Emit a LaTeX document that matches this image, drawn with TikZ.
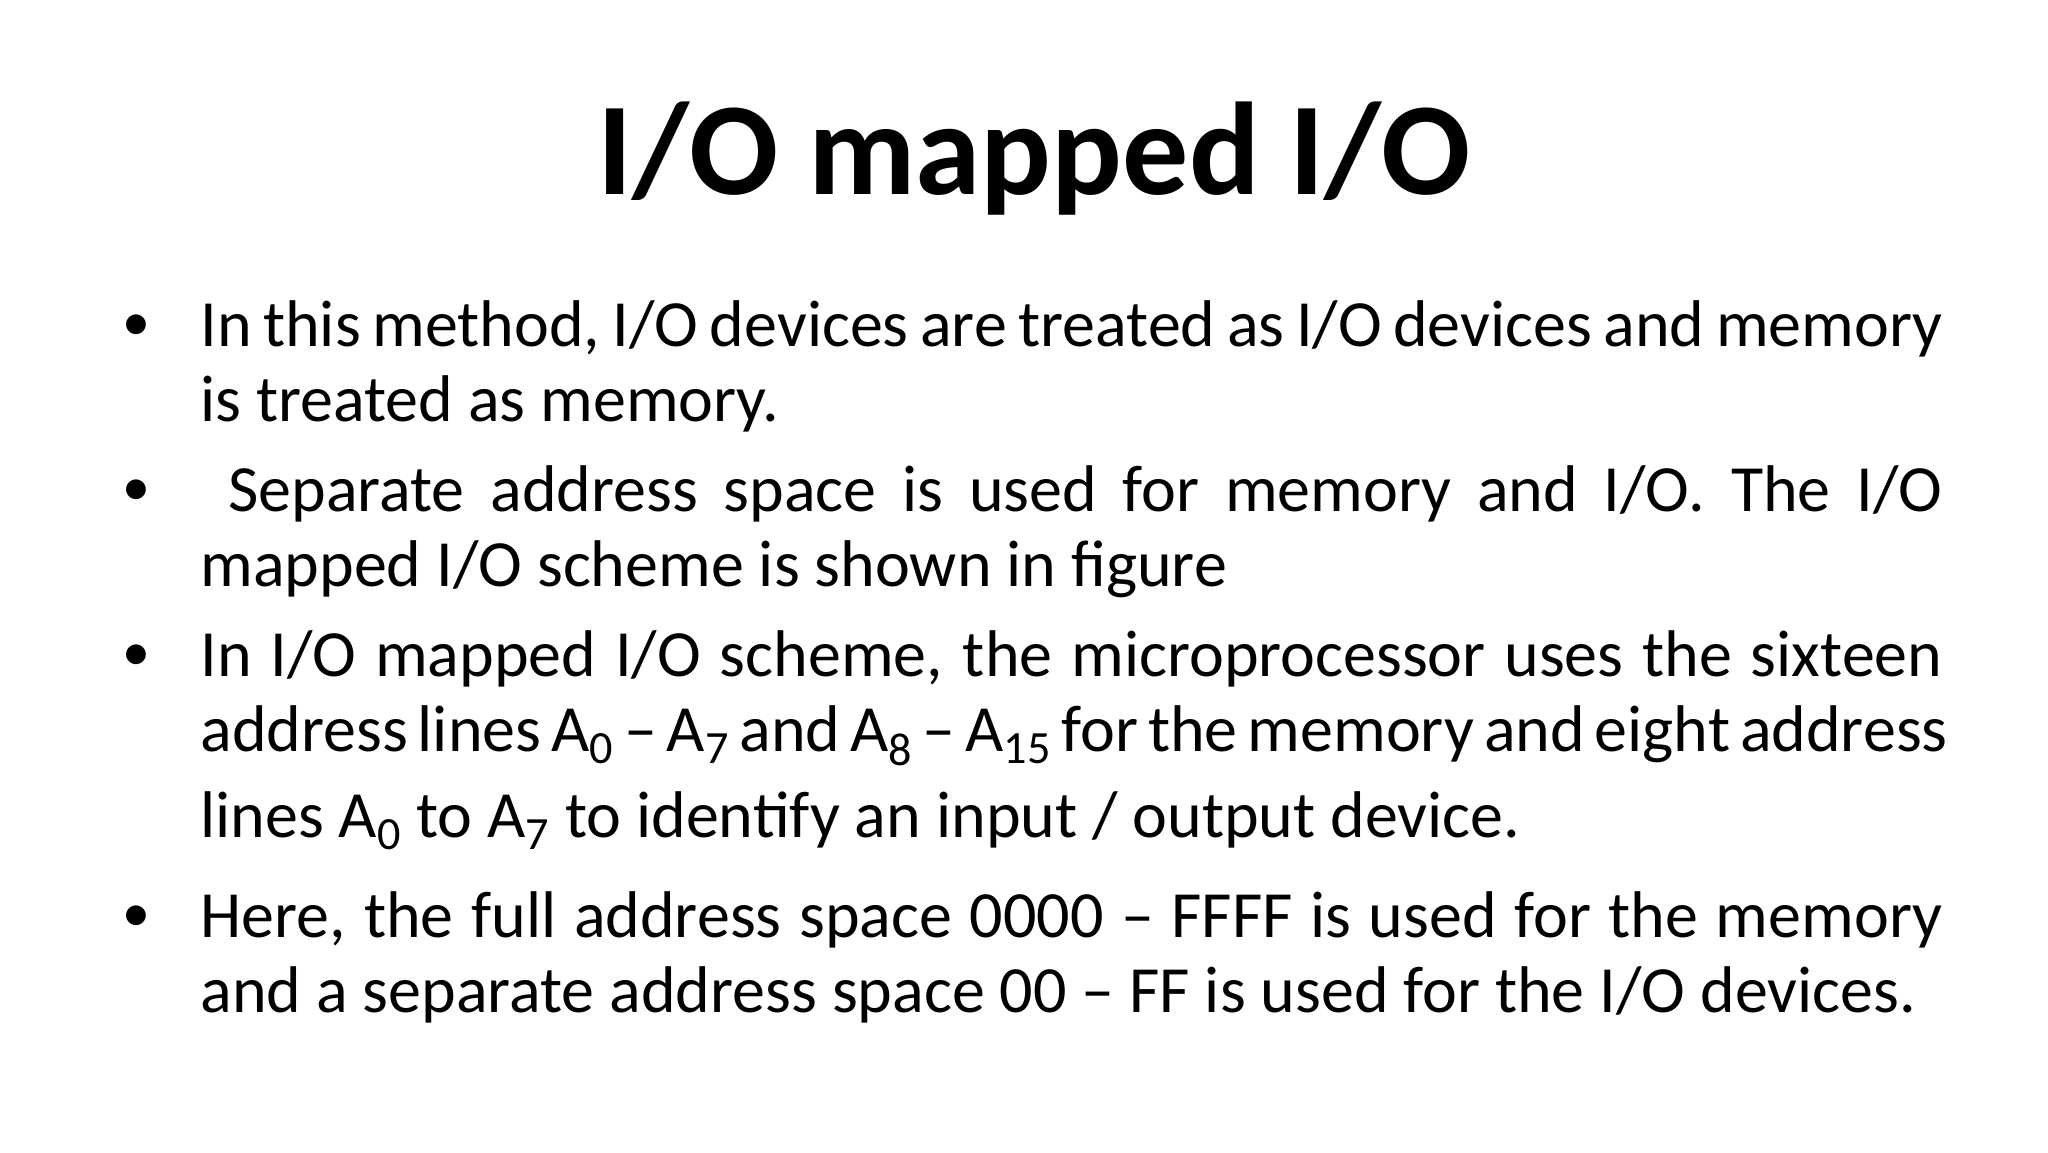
\documentclass[tikz,border=0pt]{standalone}
\usepackage{fontspec}
\setmainfont{Carlito}
\begin{document}
\begin{tikzpicture}[x=1pt,y=1pt,
  ln/.style={anchor=base west,inner sep=0pt,font=\fontsize{33}{37}\selectfont},
  bul/.style={anchor=base,inner sep=0pt,font=\fontsize{28}{30}\selectfont}]
\useasboundingbox[fill=white] (0,0) rectangle (1024,-576);
\node[anchor=base,inner sep=0pt,font=\fontsize{66}{70}\selectfont\bfseries] (title) at (517,-97) {I/O mapped I/O};
\def\W{871pt}
\node[bul] (b1) at (68,-170) {•};
\node[ln] (l1) at (100,-173) {\makebox[\W][s]{In this method, I/O devices are treated as I/O devices and memory}};
\node[ln] (l2) at (100,-210.5) {is treated as memory.};
\node[bul] (b2) at (68,-252.5) {•};
\node[ln] (l3) at (100,-255.5) {\makebox[\W][s]{\hspace{14pt}Separate address space is used for memory and I/O. The I/O}};
\node[ln] (l4) at (100,-293) {mapped I/O scheme is shown in figure};
\node[bul] (b3) at (68,-335) {•};
\node[ln] (l5) at (100,-338) {\makebox[\W][s]{In I/O mapped I/O scheme, the microprocessor uses the sixteen}};
\node[ln] (l6) at (100,-375.5) {\makebox[\W][s]{address lines A\textsubscript{0} – A\textsubscript{7} and A\textsubscript{8} – A\textsubscript{15} for the memory and eight address}};
\node[ln] (l7) at (100,-418.5) {lines A\textsubscript{0} to A\textsubscript{7} to identify an input / output device.};
\node[bul] (b4) at (68,-465.5) {•};
\node[ln] (l8) at (100,-468.5) {\makebox[\W][s]{Here, the full address space 0000 – FFFF is used for the memory}};
\node[ln] (l9) at (100,-506) {and a separate address space 00 – FF is used for the I/O devices.};
\end{tikzpicture}
\end{document}
